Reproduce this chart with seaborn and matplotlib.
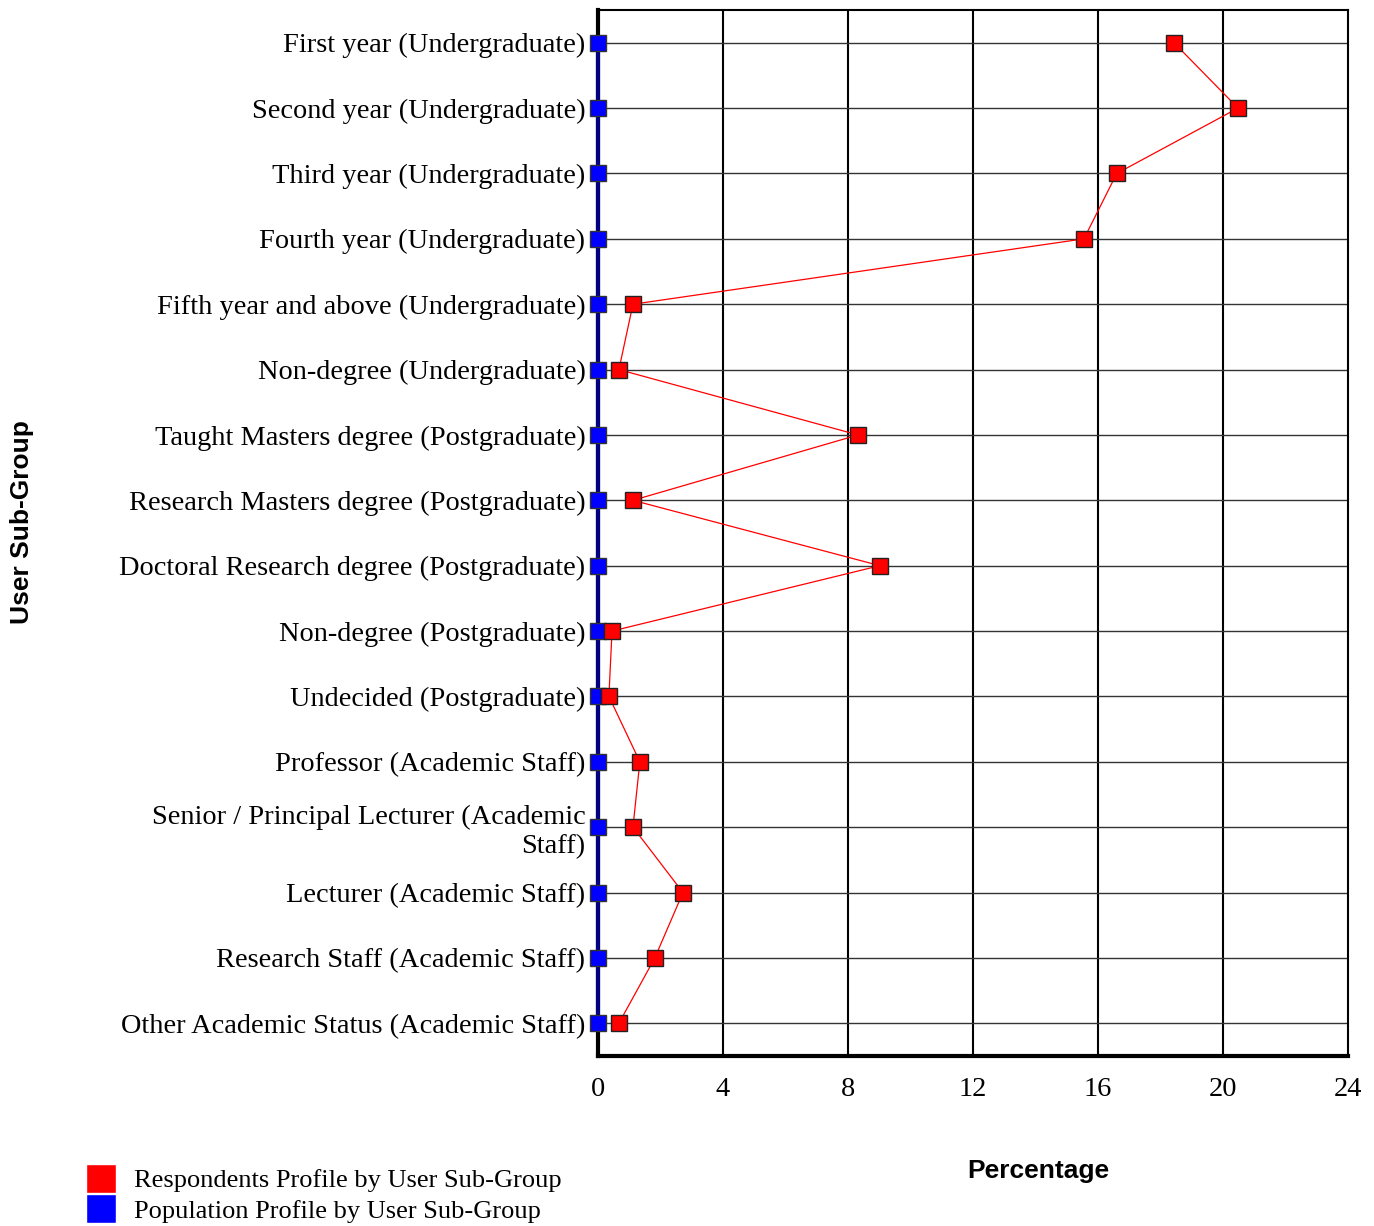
"""Respondents vs population profile by user sub-group."""

import matplotlib
matplotlib.use("Agg")
import matplotlib.pyplot as plt
from matplotlib.patches import Patch
import seaborn as sns
import pandas as pd

sns.set_theme(style="white")
plt.rcParams["font.family"] = ["Liberation Serif", "DejaVu Serif"]
plt.rcParams.update({
    "text.color": "black",
    "xtick.color": "black",
    "ytick.color": "black",
    "axes.labelcolor": "black",
})

GROUPS = [
    "First year (Undergraduate)",
    "Second year (Undergraduate)",
    "Third year (Undergraduate)",
    "Fourth year (Undergraduate)",
    "Fifth year and above (Undergraduate)",
    "Non-degree (Undergraduate)",
    "Taught Masters degree (Postgraduate)",
    "Research Masters degree (Postgraduate)",
    "Doctoral Research degree (Postgraduate)",
    "Non-degree (Postgraduate)",
    "Undecided (Postgraduate)",
    "Professor (Academic Staff)",
    "Senior / Principal Lecturer (Academic\nStaff)",
    "Lecturer (Academic Staff)",
    "Research Staff (Academic Staff)",
    "Other Academic Status (Academic Staff)",
]
RESPONDENTS = [18.43, 20.48, 16.6, 15.55, 1.12, 0.67, 8.32, 1.12,
               9.02, 0.45, 0.35, 1.34, 1.12, 2.72, 1.82, 0.67]
POPULATION = [0.0] * len(GROUPS)
X_TICKS = [0, 4, 8, 12, 16, 20, 24]

df = pd.DataFrame({"group": GROUPS, "resp": RESPONDENTS, "pop": POPULATION})

fig = plt.figure(figsize=(13.74, 12.26), dpi=100)
ax = fig.add_axes([0.4352, 0.1387, 0.5459, 0.8531])


def style_new_lines(before, **props):
    for ln in ax.lines[before:]:
        ln.set(**props)
        ln.set_clip_on(False)


n0 = len(ax.lines)
sns.pointplot(data=df, x="pop", y="group", order=GROUPS, orient="h",
              color="#0000ff", markers="s", linestyles="-", ax=ax,
              errorbar=None, markersize=11.5, linewidth=3)
style_new_lines(n0, color="#000080", markerfacecolor="#0000ff",
                markeredgecolor="#333333", markeredgewidth=1.0, zorder=5)

n0 = len(ax.lines)
sns.pointplot(data=df, x="resp", y="group", order=GROUPS, orient="h",
              color="#ff0000", markers="s", linestyles="-", ax=ax,
              errorbar=None, markersize=11.5, linewidth=0.9)
style_new_lines(n0, color="#ff0000", markerfacecolor="#ff0000",
                markeredgecolor="#222222", markeredgewidth=1.0, zorder=6)

ax.set_xlim(0, 24)
ax.set_ylim(len(GROUPS) - 0.5, -0.5)
ax.set_xticks(X_TICKS)
ax.set_xticklabels([str(t) for t in X_TICKS], fontsize=20.4)
ax.tick_params(axis="y", labelsize=20.4, pad=9, length=0)
ax.tick_params(axis="x", pad=15, length=0)
ax.set_xlabel("")
ax.set_ylabel("")

for t in X_TICKS[1:-1]:
    ax.axvline(t, color="black", lw=1.5, zorder=0)
for i in range(len(GROUPS)):
    ax.axhline(i, color="#333333", lw=1.0, zorder=0)

for side in ["top", "right"]:
    ax.spines[side].set_visible(True)
    ax.spines[side].set_color("black")
    ax.spines[side].set_linewidth(1.5)
for side in ["left", "bottom"]:
    ax.spines[side].set_visible(True)
    ax.spines[side].set_color("black")
    ax.spines[side].set_linewidth(3)
    ax.spines[side].set_zorder(4)

fig.text(0.016, 0.574, "User Sub-Group", rotation=90, ha="center",
         va="center", fontsize=19, fontweight="bold",
         family=["Liberation Sans", "DejaVu Sans"])
fig.text(0.756, 0.045, "Percentage", ha="center", va="center",
         fontsize=19, fontweight="bold",
         family=["Liberation Sans", "DejaVu Sans"])

handles = [Patch(facecolor="#ff0000", label="Respondents Profile by User Sub-Group"),
           Patch(facecolor="#0000ff", label="Population Profile by User Sub-Group")]
fig.legend(handles=handles, loc="lower left", bbox_to_anchor=(0.045, -0.017),
           frameon=False, fontsize=19, handlelength=1.15, handleheight=1.3,
           handletextpad=0.7, labelspacing=0.05)

fig.savefig("out.png", dpi=100)
